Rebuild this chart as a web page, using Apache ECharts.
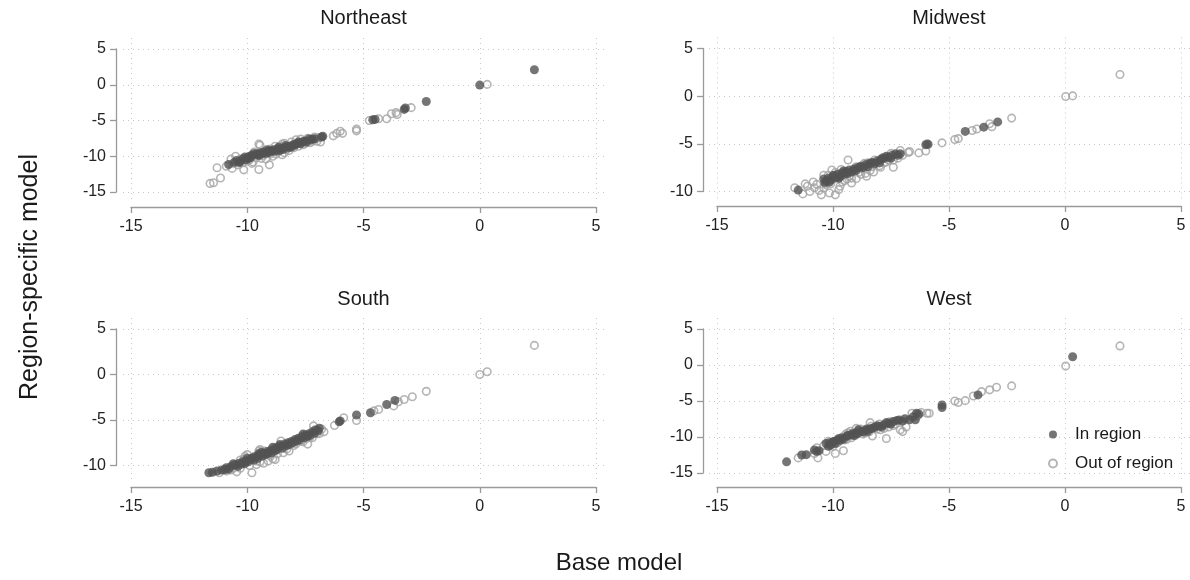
<!DOCTYPE html>
<html><head><meta charset="utf-8">
<script src="https://cdn.jsdelivr.net/npm/echarts@6/dist/echarts.min.js"></script>
<style>html,body{margin:0;padding:0;background:#fff}#c{width:1190px;height:580px}</style>
</head><body><div id="c"></div>
<script>
// ---------------- data ----------------
const panelTitles = ['Northeast', 'Midwest', 'South', 'West'];
const legendNames = ['In region', 'Out of region'];
const xTicks = [-15, -10, -5, 0, 5];
const yTicksNE = [-15, -10, -5, 0, 5];
const yTicksMW = [-10, -5, 0, 5];
const yTicksS = [-10, -5, 0, 5];
const yTicksW = [-15, -10, -5, 0, 5];
const xTitle = 'Base model';
const yTitle = 'Region-specific model';

const neIn = [[2.35,2.1],[0,-0.05],[-2.3,-2.35],[-3.25,-3.45],[-3.2,-3.25],[-4.6,-4.9],[-4.5,-4.85],[-6.8,-7.3],[-6.75,-7.2],[-7.2,-7.6],[-7.25,-7.7],[-7.5,-7.85],[-7.6,-7.95],[-7.75,-8.1],[-7.9,-8.3],[-8.0,-8.35],[-8.15,-8.55],[-8.3,-8.65],[-8.4,-8.8],[-8.55,-8.9],[-8.7,-9.0],[-8.85,-9.1],[-9.0,-9.2],[-9.1,-9.35],[-9.3,-9.4],[-9.45,-9.55],[-9.6,-9.7],[-9.8,-9.85],[-9.9,-10.0],[-10.0,-10.2],[-10.05,-10.5],[-10.3,-10.75],[-10.35,-10.9],[-10.8,-11.15],[-8.2,-8.8],[-8.6,-9.2],[-9.2,-9.6],[-7.8,-8.0],[-8.9,-9.3],[-9.5,-9.9],
  [-10.2,-10.4],[-10.1,-10.1],[-9.95,-10.3],[-9.7,-9.6],[-9.55,-9.8],[-9.35,-9.65],[-9.15,-9.1],[-9.05,-9.5],[-8.75,-9.25],[-8.65,-8.75],[-8.45,-9.05],[-8.35,-8.5],[-8.1,-8.7],[-7.95,-8.45],[-7.7,-8.25],[-7.45,-8.0],[-7.35,-7.6],[-7.1,-7.55],[-9.85,-10.2],[-10.45,-10.6],[-10.55,-10.85]];
const neOut = [[0.32,0.05],[-2.95,-3.2],[-3.55,-4.15],[-3.6,-3.9],[-3.8,-4.05],[-4.0,-4.75],[-4.35,-4.75],[-4.75,-5.0],[-5.3,-6.2],[-5.3,-6.45],[-5.9,-6.8],[-6.0,-6.5],[-6.3,-7.15],[-6.15,-6.8],[-6.85,-8.0],[-7.0,-7.5],[-7.3,-8.1],[-7.9,-7.7],[-7.6,-8.4],[-8.0,-8.8],[-8.3,-9.0],[-8.5,-8.3],[-8.7,-9.4],[-9.0,-9.7],[-9.05,-11.2],[-9.45,-8.45],[-9.5,-8.3],[-9.5,-11.85],[-9.6,-10.2],[-9.9,-10.5],[-10.15,-11.9],[-10.2,-10.9],[-10.5,-10.0],[-10.6,-11.0],[-10.65,-11.7],[-11.3,-11.6],[-11.15,-13.05],[-11.45,-13.7],[-11.6,-13.8],[-8.1,-8.0],[-8.8,-8.6],[-9.3,-9.9],[-8.4,-9.5],[-7.0,-7.9],[-9.8,-11.0],[-10.0,-10.7],[-8.9,-10.0],[-7.4,-7.5],
  [-10.3,-10.4],[-10.4,-11.2],[-9.7,-9.4],[-9.4,-10.3],[-9.2,-10.4],[-9.0,-9.0],[-8.75,-9.7],[-8.6,-8.6],[-8.2,-9.2],[-8.0,-8.4],[-7.8,-8.6],[-7.5,-8.2],[-7.2,-7.9],[-6.9,-7.4],[-10.7,-10.4],[-10.9,-11.4],[-9.75,-10.8],[-8.4,-8.2],[-7.7,-7.6],[-7.1,-7.3],[-9.1,-9.3],[-8.5,-9.8]];

const mwIn = [[-11.5,-9.85],[-10.4,-8.7],[-10.2,-8.6],[-10.0,-8.35],[-9.8,-8.2],[-9.6,-8.05],[-9.45,-7.9],[-9.3,-7.75],[-9.1,-7.65],[-8.95,-7.5],[-8.8,-7.35],[-8.6,-7.2],[-8.45,-7.1],[-8.3,-6.95],[-8.1,-6.8],[-7.95,-6.65],[-7.8,-6.55],[-7.6,-6.4],[-7.45,-6.2],[-7.3,-6.05],[-7.1,-6.05],[-9.9,-8.6],[-9.2,-7.95],[-8.7,-7.5],[-8.2,-7.1],[-7.7,-6.3],[-10.3,-8.9],[-9.5,-8.2],[-5.9,-5.05],[-6.0,-5.1],[-4.3,-3.7],[-3.5,-3.25],[-2.9,-2.7],
  [-10.35,-9.1],[-10.1,-8.8],[-9.95,-8.3],[-9.7,-8.45],[-9.55,-7.85],[-9.35,-8.1],[-9.0,-7.8],[-8.85,-7.45],[-8.5,-7.4],[-8.35,-7.0],[-8.0,-7.0],[-7.85,-6.45],[-7.5,-6.5],[-7.2,-6.2],[-10.15,-9.0],[-9.75,-8.6]];
const mwOut = [[2.37,2.27],[0.03,-0.03],[0.33,0.03],[-2.3,-2.3],[-3.25,-2.9],[-3.15,-3.2],[-3.8,-3.45],[-4.0,-3.6],[-4.6,-4.45],[-4.75,-4.55],[-5.3,-4.9],[-5.95,-5.0],[-6.0,-5.75],[-6.3,-5.95],[-6.7,-5.8],[-6.75,-5.9],[-7.1,-5.7],[-7.0,-6.2],[-7.4,-7.45],[-7.6,-6.7],[-7.95,-7.45],[-8.25,-7.95],[-8.5,-7.0],[-8.55,-8.4],[-8.75,-7.6],[-9.0,-8.65],[-9.1,-7.8],[-9.35,-6.7],[-9.5,-8.85],[-9.75,-9.8],[-10.0,-8.5],[-10.05,-7.75],[-10.15,-10.15],[-10.4,-8.3],[-10.6,-9.9],[-10.7,-9.25],[-10.8,-9.6],[-11.1,-9.45],[-11.2,-9.2],[-11.3,-10.25],[-11.65,-9.6],[-10.5,-10.35],[-9.9,-10.35],[-9.7,-9.45],[-8.9,-8.0],[-8.3,-7.4],[-7.7,-6.9],[-9.3,-8.4],
  [-10.3,-9.3],[-10.1,-9.2],[-9.6,-9.0],[-9.4,-8.7],[-9.2,-8.6],[-8.8,-8.2],[-8.6,-8.1],[-8.4,-7.8],[-8.0,-7.3],[-7.8,-7.0],[-7.4,-6.7],[-7.2,-6.5],[-10.2,-8.3],[-9.9,-8.0],[-9.65,-7.7],[-9.0,-7.4],[-8.65,-7.05],[-8.2,-6.7],[-7.5,-6.0],[-11.0,-10.0],[-10.85,-9.0],[-10.4,-9.6],[-9.2,-9.1]];

const sIn = [[-11.65,-10.8],[-11.3,-10.6],[-10.9,-10.25],[-10.7,-10.1],[-10.5,-9.95],[-10.35,-9.75],[-10.2,-9.6],[-10.05,-9.5],[-9.9,-9.35],[-9.75,-9.15],[-9.6,-9.0],[-9.45,-8.85],[-9.3,-8.65],[-9.15,-8.5],[-9.0,-8.35],[-8.85,-8.15],[-8.7,-8.0],[-8.55,-7.85],[-8.4,-7.65],[-8.25,-7.5],[-8.1,-7.35],[-7.95,-7.15],[-7.8,-7.0],[-7.65,-6.85],[-7.5,-6.65],[-7.35,-6.5],[-7.2,-6.3],[-7.05,-6.1],[-6.9,-5.9],[-10.1,-9.8],[-9.7,-9.4],[-9.2,-8.8],[-8.8,-8.35],[-8.3,-7.8],[-7.9,-7.35],[-7.4,-6.8],[-9.5,-8.7],[-8.6,-7.7],[-10.4,-10.1],[-6.0,-5.1],[-6.05,-5.2],[-5.3,-4.45],[-4.7,-4.2],[-4.0,-3.3],[-3.65,-2.85],
  [-11.1,-10.5],[-10.8,-10.4],[-10.6,-9.8],[-10.25,-9.85],[-9.95,-9.6],[-9.8,-9.2],[-9.55,-9.2],[-9.35,-8.95],[-9.1,-8.65],[-8.95,-8.6],[-8.75,-8.3],[-8.5,-8.1],[-8.2,-7.7],[-8.05,-7.5],[-7.75,-7.2],[-7.55,-6.95],[-7.3,-6.7],[-7.1,-6.45],[-6.95,-6.2],[-10.0,-9.2],[-9.4,-8.55],[-8.9,-8.0],[-7.6,-6.55],[-11.5,-10.75],[-10.95,-10.45]];
const sOut = [[2.35,3.2],[0,0],[0.32,0.3],[-2.3,-1.85],[-2.9,-2.45],[-3.25,-2.75],[-3.5,-3.0],[-3.7,-3.45],[-4.35,-3.85],[-4.55,-4.0],[-5.3,-5.05],[-5.85,-4.75],[-6.25,-5.6],[-6.7,-6.3],[-6.8,-6.0],[-7.15,-5.65],[-7.4,-7.65],[-7.45,-7.05],[-7.9,-7.6],[-8.2,-8.4],[-8.55,-7.3],[-8.8,-9.35],[-8.9,-9.25],[-9.3,-9.75],[-9.45,-8.25],[-9.5,-8.4],[-9.8,-10.8],[-10.0,-8.8],[-10.1,-9.0],[-10.45,-10.7],[-10.6,-10.3],[-10.9,-10.6],[-9.6,-9.9],[-9.0,-8.8],[-8.4,-8.0],[-8.0,-7.8],[-10.3,-9.4],[-9.1,-9.5],[-7.7,-7.3],[-7.0,-6.5],[-11.0,-10.5],
  [-11.2,-10.8],[-10.7,-10.5],[-10.3,-10.3],[-10.15,-9.3],[-9.9,-10.0],[-9.7,-9.0],[-9.45,-9.6],[-9.25,-8.4],[-9.0,-9.0],[-8.7,-8.7],[-8.6,-7.9],[-8.3,-8.2],[-8.1,-7.6],[-7.85,-7.2],[-7.6,-7.4],[-7.3,-6.9],[-7.1,-6.1],[-6.9,-6.5],[-10.55,-9.9],[-9.6,-9.5],[-8.45,-8.6],[-7.2,-6.95]];

const wIn = [[0.33,1.15],[-3.75,-4.15],[-5.3,-5.55],[-5.3,-5.9],[-6.3,-6.8],[-6.45,-7.6],[-6.4,-6.7],[-6.7,-7.6],[-7.0,-7.8],[-7.15,-7.65],[-7.4,-7.85],[-7.6,-8.1],[-7.8,-8.3],[-8.0,-8.5],[-8.2,-8.65],[-8.4,-8.85],[-8.6,-9.05],[-8.8,-9.25],[-9.0,-9.45],[-9.2,-9.7],[-9.4,-9.9],[-9.6,-10.15],[-9.8,-10.4],[-10.0,-10.7],[-10.1,-11.1],[-10.2,-11.3],[-10.7,-12.0],[-10.8,-11.8],[-11.15,-12.45],[-11.35,-12.5],[-12.0,-13.45],[-9.7,-10.5],[-9.1,-9.8],[-8.5,-9.2],[-7.9,-8.6],[-8.9,-9.0],[-9.9,-10.9],
  [-10.3,-10.9],[-10.15,-10.8],[-9.95,-10.6],[-9.75,-10.2],[-9.55,-10.3],[-9.35,-9.75],[-9.15,-9.5],[-8.95,-9.55],[-8.7,-9.3],[-8.55,-8.9],[-8.3,-8.8],[-8.1,-8.45],[-7.7,-8.0],[-7.5,-8.2],[-7.25,-7.7],[-6.9,-7.45],[-6.55,-7.2],[-10.6,-11.9]];
const wOut = [[2.37,2.65],[0.03,-0.15],[-2.3,-2.9],[-2.95,-3.1],[-3.25,-3.45],[-3.6,-3.7],[-3.95,-4.3],[-4.3,-4.95],[-4.6,-5.2],[-4.75,-5.0],[-5.85,-6.7],[-5.95,-6.7],[-6.35,-7.05],[-6.85,-8.6],[-7.0,-9.25],[-7.1,-9.0],[-7.7,-10.2],[-7.95,-9.0],[-8.3,-9.85],[-8.4,-8.0],[-8.9,-9.1],[-9.0,-8.8],[-9.35,-9.4],[-9.55,-11.9],[-9.9,-12.3],[-10.3,-12.0],[-10.65,-12.9],[-11.5,-12.9],[-8.7,-9.6],[-9.5,-10.4],[-10.0,-11.3],[-10.4,-11.2],[-9.2,-10.1],[-8.1,-8.9],[-7.4,-8.4],[-10.8,-12.3],
  [-10.2,-10.6],[-10.05,-11.0],[-9.8,-10.8],[-9.6,-10.0],[-9.4,-10.3],[-9.25,-9.2],[-9.05,-9.8],[-8.8,-8.9],[-8.6,-9.4],[-8.35,-8.5],[-8.0,-8.2],[-7.8,-8.8],[-7.55,-7.9],[-7.3,-8.2],[-6.6,-6.7],[-6.2,-6.6],[-10.7,-11.5],[-9.45,-9.6],[-8.45,-9.3],[-7.6,-8.6]];

// ---------------- layout ----------------
const FONT = 'Liberation Sans, Arial, sans-serif';
const panels = [
  {title: panelTitles[0], yTicks: yTicksNE, inData: neIn, outData: neOut, x0:131, x1:596, yTop:49,  yBot:192,   plotBot:200, axX:207, axY:116, titleY:18},
  {title: panelTitles[1], yTicks: yTicksMW, inData: mwIn, outData: mwOut, x0:717, x1:1181, yTop:48.5, yBot:191.5, plotBot:200, axX:206, axY:703, titleY:18},
  {title: panelTitles[2], yTicks: yTicksS,  inData: sIn,  outData: sOut,  x0:131, x1:596, yTop:329, yBot:465.5, plotBot:480, axX:487, axY:116, titleY:299},
  {title: panelTitles[3], yTicks: yTicksW,  inData: wIn,  outData: wOut,  x0:717, x1:1181, yTop:329, yBot:473,   plotBot:480, axX:487, axY:703, titleY:299}
];

const grids = [], xAxes = [], yAxes = [], series = [], graphics = [];
const axisColor = '#9a9a9a';
const labelStyle = {color: '#222', fontSize: 16, fontFamily: FONT};

panels.forEach((p, i) => {
  const xMinT = xTicks[0], xMaxT = xTicks[xTicks.length - 1];
  const yMinT = p.yTicks[0], yMaxT = p.yTicks[p.yTicks.length - 1];
  const sx = (p.x1 - p.x0) / (xMaxT - xMinT);
  const sy = (p.yBot - p.yTop) / (yMaxT - yMinT);
  const padL = 8, padR = 9, padT = 11;
  const aLeft = p.x0 - padL, aRight = p.x1 + padR, aTop = p.yTop - padT, aBot = p.plotBot;
  grids.push({left: aLeft, top: aTop, width: aRight - aLeft, height: aBot - aTop});
  const gA = grids.length - 1;
  xAxes.push({type: 'value', gridIndex: gA, min: xMinT - padL / sx, max: xMaxT + padR / sx,
    axisLine: {show: false}, axisTick: {show: false, customValues: xTicks}, axisLabel: {show: false, customValues: xTicks},
    splitLine: {show: true, lineStyle: {color: '#c8c8c8', width: 1, type: [1, 4]}}});
  yAxes.push({type: 'value', gridIndex: gA, min: yMinT - (p.plotBot - p.yBot) / sy, max: yMaxT + padT / sy,
    axisLine: {show: false}, axisTick: {show: false, customValues: p.yTicks}, axisLabel: {show: false, customValues: p.yTicks},
    splitLine: {show: true, lineStyle: {color: '#c8c8c8', width: 1, type: [1, 4]}}});
  const xa = xAxes.length - 1, ya = yAxes.length - 1;
  grids.push({left: p.x0, top: p.yTop, width: p.x1 - p.x0, height: p.yBot - p.yTop});
  const gB = grids.length - 1;
  xAxes.push({type: 'value', gridIndex: gB, min: xMinT, max: xMaxT, interval: 5, position: 'bottom',
    offset: p.axX - p.yBot,
    axisLine: {show: true, onZero: false, lineStyle: {color: axisColor, width: 1.3}},
    axisTick: {show: true, length: 6, lineStyle: {color: axisColor, width: 1.3}},
    axisLabel: Object.assign({margin: 12}, labelStyle), splitLine: {show: false}});
  yAxes.push({type: 'value', gridIndex: gB, min: yMinT, max: yMaxT, interval: 5, position: 'left',
    offset: p.x0 - p.axY,
    axisLine: {show: true, onZero: false, lineStyle: {color: axisColor, width: 1.3}},
    axisTick: {show: true, length: 6, lineStyle: {color: axisColor, width: 1.3}},
    axisLabel: Object.assign({margin: 10, align: 'right'}, labelStyle), splitLine: {show: false}});
  series.push({type: 'scatter', name: legendNames[1], xAxisIndex: xa, yAxisIndex: ya, data: p.outData,
    symbol: 'circle', symbolSize: 7.5, clip: false,
    itemStyle: {color: 'rgba(255,255,255,0)', borderColor: '#a3a3a3', borderWidth: 1.6}});
  series.push({type: 'scatter', name: legendNames[0], xAxisIndex: xa, yAxisIndex: ya, data: p.inData,
    symbol: 'circle', symbolSize: 9, clip: false,
    itemStyle: {color: '#525252', borderWidth: 0}});
  graphics.push({type: 'text', x: (p.x0 + p.x1) / 2, y: p.titleY,
    style: {text: p.title, fill: '#1a1a1a', font: '20px ' + FONT, textAlign: 'center', textVerticalAlign: 'middle'}});
});

graphics.push({type: 'text', x: 619, y: 563,
  style: {text: xTitle, fill: '#1a1a1a', font: '24px ' + FONT, textAlign: 'center', textVerticalAlign: 'middle'}});
graphics.push({type: 'text', x: 30, y: 277, rotation: Math.PI / 2,
  style: {text: yTitle, fill: '#1a1a1a', font: '25px ' + FONT, textAlign: 'center', textVerticalAlign: 'middle'}});

const chart = echarts.init(document.getElementById('c'), null, {renderer: 'canvas'});
chart.setOption({
  animation: false,
  backgroundColor: '#ffffff',
  grid: grids, xAxis: xAxes, yAxis: yAxes, series: series,
  legend: {data: [legendNames[0], legendNames[1]], orient: 'vertical', left: 1043, top: 421,
    itemWidth: 8, itemHeight: 8, itemGap: 12,
    textStyle: {fontSize: 17, fontFamily: FONT, color: '#1a1a1a', padding: [0, 0, 0, 13]}},
  graphic: graphics
});
</script></body></html>
